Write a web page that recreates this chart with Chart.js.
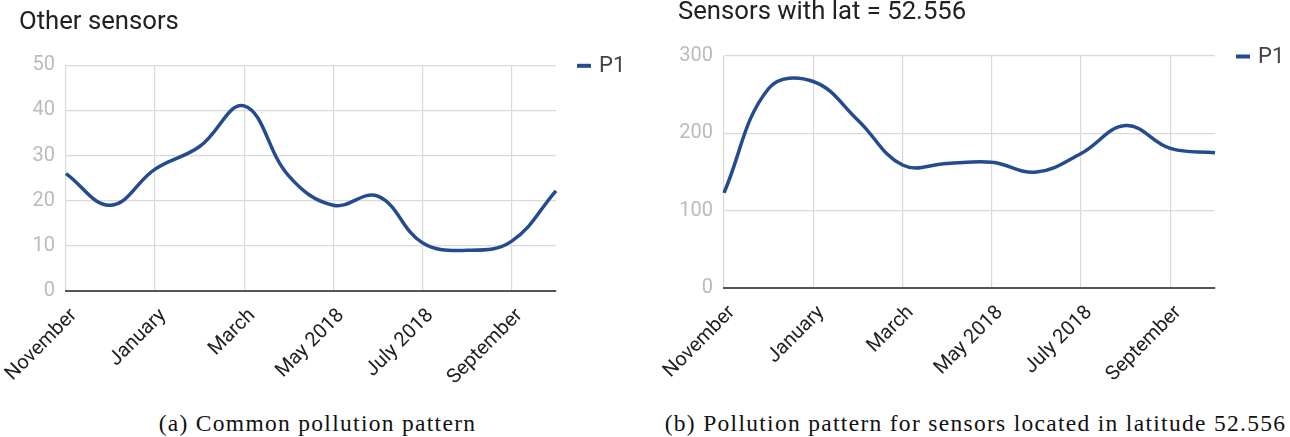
<!DOCTYPE html>
<html>
<head>
<meta charset="utf-8">
<script src="https://cdn.jsdelivr.net/npm/chart.js@4.4.1/dist/chart.umd.min.js"></script>
<style>
  html, body { margin: 0; padding: 0; background: #fff; }
  #page { position: relative; width: 1290px; height: 437px; overflow: hidden; }
  .panel { position: absolute; top: 0; }
  .caption {
    position: absolute; top: 409px; line-height: 28px;
    font-family: 'Liberation Serif', serif; font-size: 23.5px; letter-spacing: 1.3px;
    color: #111; text-align: center; white-space: nowrap;
  }
</style>
</head>
<body>
<div id="page">
  <div class="panel" style="left:0"><canvas id="chartA" width="640" height="395"></canvas></div>
  <div class="panel" style="left:640px"><canvas id="chartB" width="650" height="395"></canvas></div>
  <div class="caption" style="left:0;width:635px">(a) Common pollution pattern</div>
  <div class="caption" style="left:661px;width:629px">(b) Pollution pattern for sensors located in latitude 52.556</div>
</div>
<script>
// monthly points, Nov 2017 .. Oct 2018
const categories = ['November', 'December', 'January', 'February', 'March', 'April',
  'May 2018', 'June', 'July 2018', 'August', 'September', 'October'];
// only every second month gets a label (and a grid line)
const tickLabels = ['November', '', 'January', '', 'March', '', 'May 2018', '', 'July 2018', '', 'September', ''];

const otherSensorsP1 = [26, 19, 27, 32, 41, 25.5, 19, 21, 10.7, 9, 11, 22.2];
const lat52556P1 = [123, 258, 267, 217, 159, 161, 162.5, 150, 174, 210, 180.5, 175];

const otherSensorsY = [0, 50, 10];   // min, max, step
const lat52556Y = [0, 300, 100];

const LINE_BLUE = '#234b8e';

// small legend to the right of the plot: short bar + series name
const sideLegend = {
  id: 'sideLegend',
  afterDraw(chart, args, opts) {
    const { ctx, chartArea } = chart;
    const ds = chart.data.datasets[0];
    const x = chartArea.right + opts.offset;
    const y = chartArea.top + 0.5;
    ctx.save();
    ctx.fillStyle = ds.borderColor;
    ctx.fillRect(x, y - 2, 14, 4);
    ctx.font = '22px Roboto';
    ctx.fillStyle = '#424242';
    ctx.textBaseline = 'middle';
    ctx.fillText(ds.label, x + 22, y + 1);
    ctx.restore();
  }
};

function makeChart(canvasId, title, values, yRange, layout) {
  const canvas = document.getElementById(canvasId);
  return new Chart(canvas.getContext('2d'), {
    type: 'line',
    data: {
      labels: categories,
      datasets: [{
        label: 'P1',
        data: values,
        borderColor: LINE_BLUE,
        backgroundColor: LINE_BLUE,
        borderWidth: 3.5,
        tension: 0.4,
        pointRadius: 0,
        fill: false
      }]
    },
    options: {
      responsive: false,
      animation: false,
      layout: { padding: { left: layout.left, right: layout.right, top: 0, bottom: 0 } },
      plugins: {
        legend: { display: false },
        tooltip: { enabled: false },
        title: {
          display: true,
          text: title,
          align: 'start',
          color: '#212121',
          font: { family: 'Roboto', size: 25.7, weight: 'normal', lineHeight: 1 },
          padding: { top: layout.titleTop, bottom: layout.titleBottom }
        },
        sideLegend: { offset: layout.legendOffset }
      },
      scales: {
        x: {
          offset: false,
          afterFit: (scale) => {
            scale.height = layout.xHeight;
            // rotated labels may hang past the plot edge, don't let them push it
            scale.paddingLeft = 0;
            scale.paddingRight = 0;
          },
          grid: {
            drawTicks: false,
            color: (c) => (c.index % 2 === 0 ? '#d9d9d9' : 'rgba(0,0,0,0)'),
            lineWidth: 1.2
          },
          border: { display: true, color: '#555', width: 2 },
          ticks: {
            autoSkip: false,
            minRotation: 45,
            maxRotation: 45,
            padding: 13,
            labelOffset: 8,
            color: '#222',
            font: { family: 'Roboto', size: 20 },
            callback: (value, index) => tickLabels[index]
          }
        },
        y: {
          min: yRange[0],
          max: yRange[1],
          afterFit: (scale) => { scale.width = layout.yWidth; },
          grid: { drawTicks: false, color: '#dadada', lineWidth: 1.2 },
          border: { display: false },
          ticks: {
            stepSize: yRange[2],
            padding: 11,
            color: '#bbbbbb',
            font: { family: 'Roboto', size: 20 }
          }
        }
      }
    },
    plugins: [sideLegend]
  });
}

makeChart('chartA', 'Other sensors', otherSensorsP1, otherSensorsY,
  { left: 19, right: 84, yWidth: 47, xHeight: 104, titleTop: 10, titleBottom: 29.6, legendOffset: 21 });

makeChart('chartB', 'Sensors with lat = 52.556', lat52556P1, lat52556Y,
  { left: 38, right: 75, yWidth: 46, xHeight: 107, titleTop: 0, titleBottom: 30.3, legendOffset: 21 });
</script>
</body>
</html>
